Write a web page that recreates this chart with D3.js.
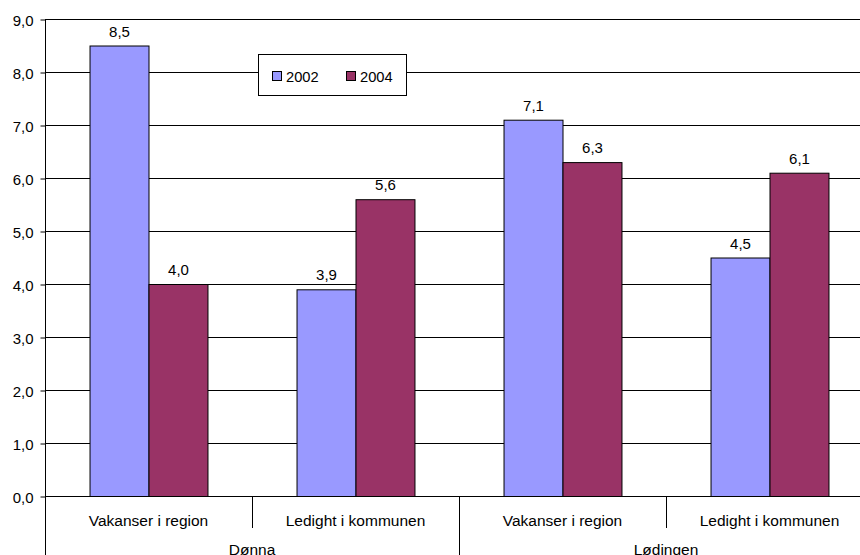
<!DOCTYPE html>
<html><head><meta charset="utf-8">
<script src="https://cdn.jsdelivr.net/npm/d3@7"></script>
<style>body{margin:0;background:#fff}svg{display:block;font-family:"Liberation Sans",Arial,sans-serif}</style>
</head><body><svg id="c" width="860" height="555"></svg>
<script>
const groups = ["Dønna", "Lødingen"];
const subcats = ["Vakanser i region", "Ledight i kommunen"];
const series = ["2002", "2004"];
const colors = ["#9999FF", "#993366"];
const values2002 = [8.5, 3.9, 7.1, 4.5];
const values2004 = [4.0, 5.6, 6.3, 6.1];
const yTicks = [0,1,2,3,4,5,6,7,8,9];

const FS = 15;
const svg = d3.select("#c");
const cats = [];
groups.forEach(g => subcats.forEach(s => cats.push(g + "|" + s)));
const x = d3.scaleBand().domain(cats).range([45, 873]);
const y = d3.scaleLinear().domain([0, 9]).range([496, 19]);
const inner = d3.scaleBand().domain(series).range([0, x.bandwidth()]).paddingOuter(0.755).paddingInner(0);
const fmt = v => d3.format(".1f")(v).replace(".", ",");

// gridlines
svg.append("g").selectAll("line").data(yTicks.slice(1)).join("line")
  .attr("x1", 45).attr("x2", 860).attr("y1", d => y(d)+0.5).attr("y2", d => y(d)+0.5)
  .attr("stroke", "#000").attr("stroke-width", 1);

// y axis
const ya = svg.append("g").attr("transform", "translate(45.5,0)")
  .call(d3.axisLeft(y).tickValues(yTicks).tickFormat(fmt).tickSize(5).tickSizeOuter(0));
ya.select(".domain").remove();
ya.selectAll("line").attr("stroke", "#000").attr("transform","translate(0,0.5)");
ya.selectAll("text").attr("font-size", FS).attr("fill", "#000").attr("font-family", "Liberation Sans, Arial, sans-serif").attr("x", -12).attr("dy", "0.4em");
svg.append("line").attr("x1", 45.5).attr("x2", 45.5).attr("y1", y(9)).attr("y2", 555).attr("stroke", "#000");

// bars
const data = [];
cats.forEach((c, i) => {
  data.push({c, s: "2002", v: values2002[i], col: colors[0]});
  data.push({c, s: "2004", v: values2004[i], col: colors[1]});
});
svg.append("g").selectAll("rect").data(data).join("rect")
  .attr("x", d => x(d.c) + inner(d.s) + 0.5)
  .attr("y", d => y(d.v) + 0.5)
  .attr("width", inner.bandwidth())
  .attr("height", d => y(0) - y(d.v))
  .attr("fill", d => d.col).attr("stroke", "#000").attr("stroke-width", 1);

svg.append("g").selectAll("text").data(data).join("text")
  .attr("x", d => x(d.c) + inner(d.s) + inner.bandwidth()/2 + 0.5)
  .attr("y", d => y(d.v) - 9)
  .attr("text-anchor", "middle").attr("font-size", FS).attr("fill", "#000")
  .text(d => fmt(d.v));

// x axis baseline
svg.append("line").attr("x1", 45).attr("x2", 860).attr("y1", y(0)+0.5).attr("y2", y(0)+0.5).attr("stroke", "#000");

// category dividers
cats.forEach((c, i) => {
  if (i === 0) return;
  const xx = Math.round(x(c)) + 0.5;
  const long = (i % subcats.length === 0);
  svg.append("line").attr("x1", xx).attr("x2", xx).attr("y1", y(0)).attr("y2", long ? 555 : 528).attr("stroke", "#000");
});
svg.append("g").selectAll("text").data(cats).join("text")
  .attr("x", d => x(d) + x.bandwidth()/2)
  .attr("y", 526).attr("text-anchor", "middle").attr("font-size", 15.5).attr("fill", "#000")
  .text(d => d.split("|")[1]);
svg.append("g").selectAll("text").data(groups).join("text")
  .attr("x", g => x(g + "|" + subcats[0]) + x.bandwidth())
  .attr("y", 555).attr("text-anchor", "middle").attr("font-size", 15.5).attr("fill", "#000")
  .text(g => g);

// legend
const lg = svg.append("g");
lg.append("rect").attr("x", 258.5).attr("y", 54.5).attr("width", 148).attr("height", 41).attr("fill", "#fff").attr("stroke", "#000");
series.forEach((s, i) => {
  const lx = 272.5 + i * 74;
  lg.append("rect").attr("x", lx).attr("y", 71.5).attr("width", 9).attr("height", 9).attr("fill", colors[i]).attr("stroke", "#000");
  lg.append("text").attr("x", lx + 13.5).attr("y", 81.5).attr("font-size", 14.7).attr("fill", "#000").text(s);
});
</script></body></html>
